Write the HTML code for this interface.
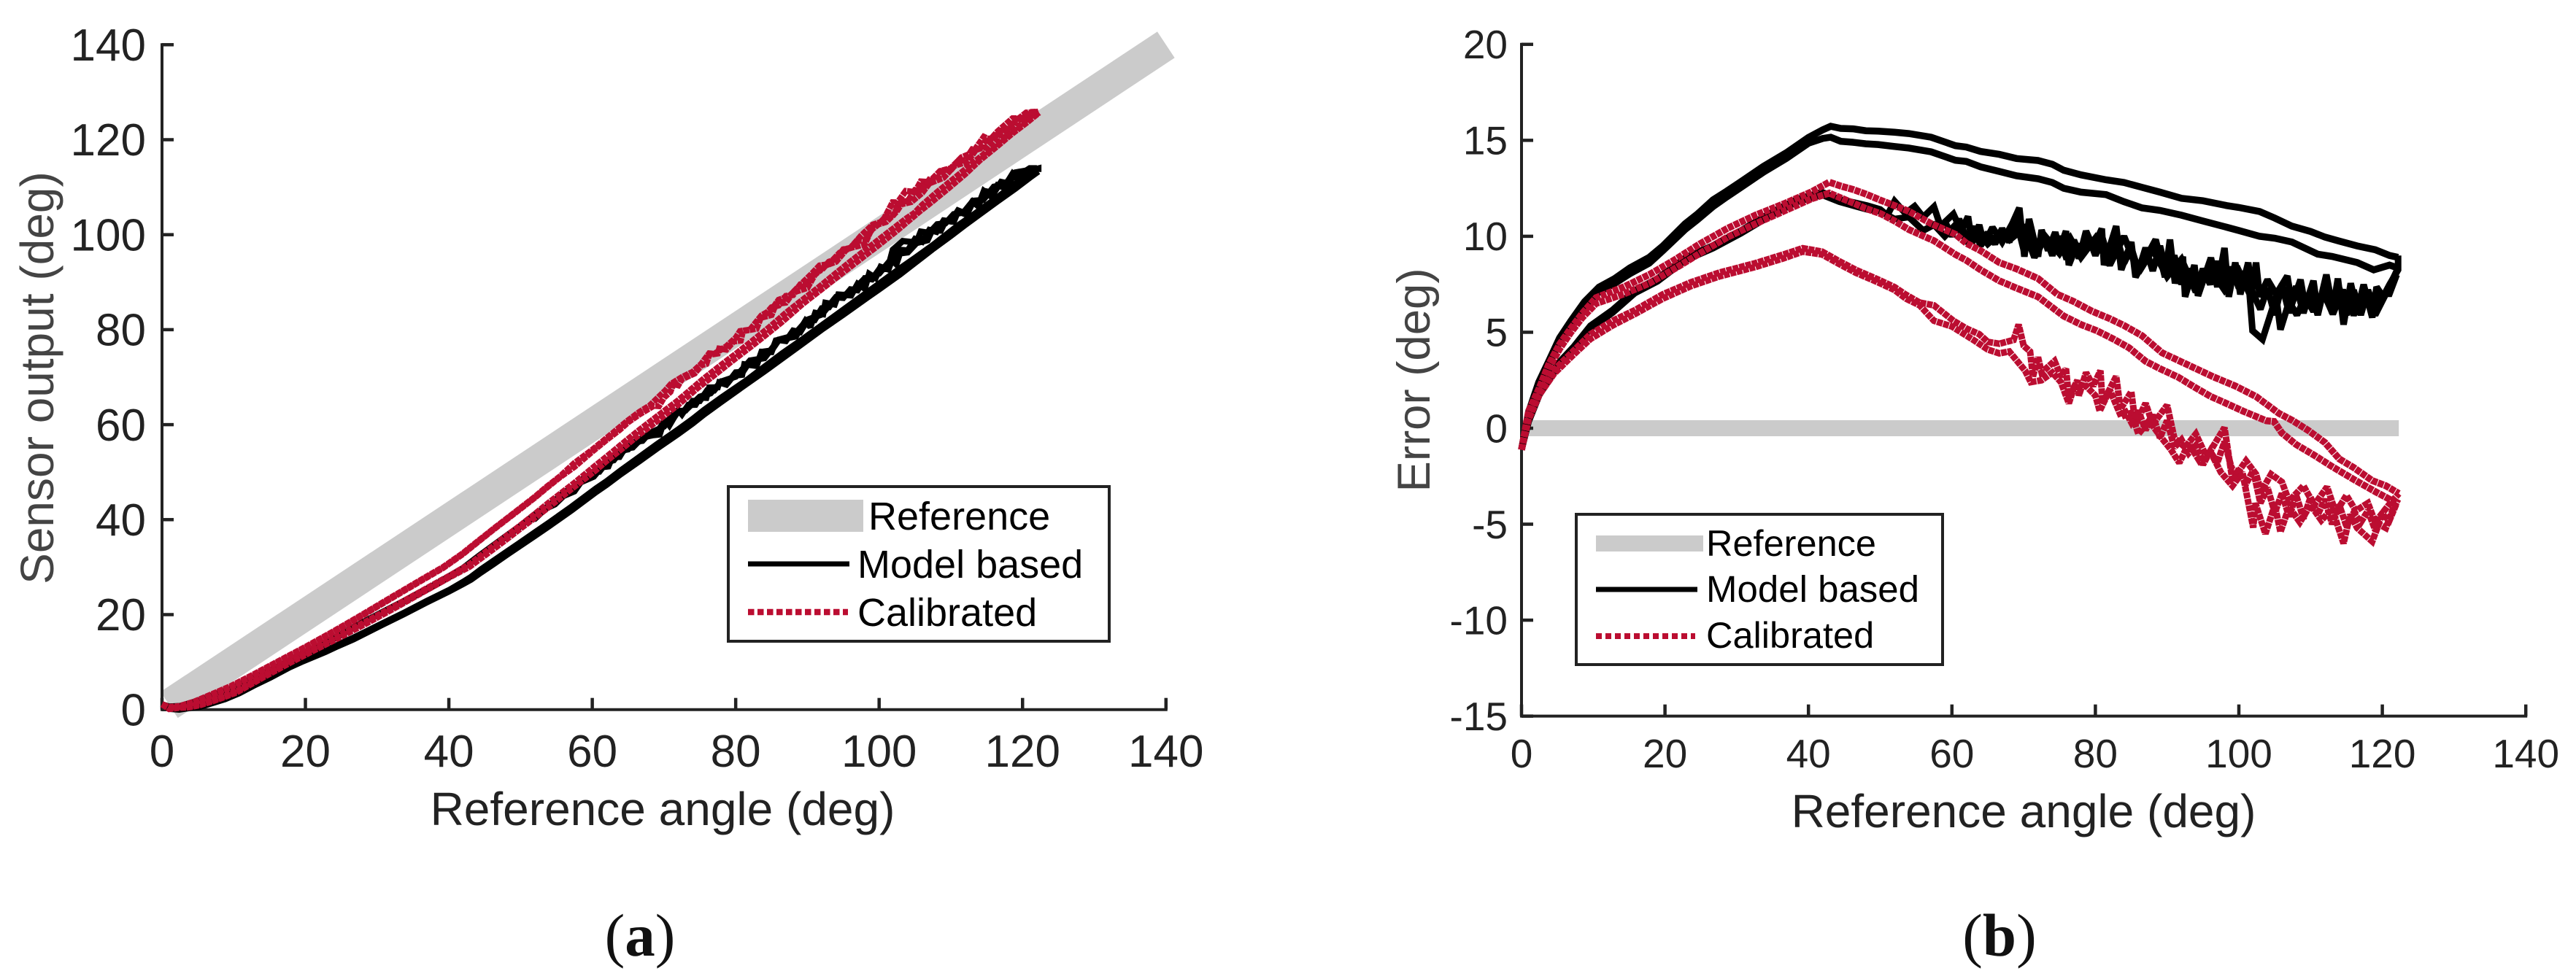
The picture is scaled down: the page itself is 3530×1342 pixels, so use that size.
<!DOCTYPE html>
<html lang="en">
<head>
<meta charset="utf-8">
<title>Sensor output and error versus reference angle</title>
<style>
  html, body { margin: 0; padding: 0; background: #fff; }
  svg { display: block; }
  text { font-family: "Liberation Sans", Arial, sans-serif; fill: #222; }
  .caption { font-family: "Liberation Serif", serif; fill: #111; }
</style>
</head>
<body>
<svg id="figure" xmlns="http://www.w3.org/2000/svg" width="3530" height="1342" viewBox="0 0 3530 1342">
  <rect width="3530" height="1342" fill="#fff"/>
  <g id="panel-a"></g>
  <g id="panel-b"></g>

  <g>
    <rect x="998" y="667" width="522" height="212" fill="#fff" stroke="#222" stroke-width="4"/>
    <rect x="1025" y="685" width="158" height="44" fill="#cbcbcb"/>
    <text x="1190" y="726" font-size="54" style="fill:#000">Reference</text>
    <line x1="1025" x2="1164" y1="773" y2="773" stroke="#000" stroke-width="7"/>
    <text x="1175" y="792" font-size="54" style="fill:#000">Model based</text>
    <line x1="1025" x2="1162" y1="839" y2="839" stroke="#bb0d31" stroke-width="8.5" stroke-dasharray="8.5 4.5"/>
    <text x="1175" y="858" font-size="54" style="fill:#000">Calibrated</text>
  </g>

  <g>
    <rect x="2160" y="705" width="502" height="206" fill="#fff" stroke="#222" stroke-width="4"/>
    <rect x="2187" y="734" width="147" height="22" fill="#cbcbcb"/>
    <text x="2338" y="762" font-size="50.5" style="fill:#000">Reference</text>
    <line x1="2187" x2="2326" y1="808" y2="808" stroke="#000" stroke-width="7"/>
    <text x="2338" y="825" font-size="51" style="fill:#000">Model based</text>
    <line x1="2187" x2="2323" y1="872" y2="872" stroke="#bb0d31" stroke-width="8" stroke-dasharray="8 5"/>
    <text x="2338" y="888" font-size="50.5" style="fill:#000">Calibrated</text>
  </g>

  <text class="caption" x="877" y="1310" font-size="83" text-anchor="middle">(<tspan font-weight="bold">a</tspan>)</text>
  <text class="caption" x="2740" y="1310" font-size="83" text-anchor="middle">(<tspan font-weight="bold">b</tspan>)</text>
</svg>

<script>
// Axis tick labels
const angleTicks = [0, 20, 40, 60, 80, 100, 120, 140];
const sensorTicks = [0, 20, 40, 60, 80, 100, 120, 140];
const errorTicks = [-15, -10, -5, 0, 5, 10, 15, 20];

// Reference series (ideal sensor): angle range
const referenceAngle = [1, 140];
const referenceErrorAngle = [0, 122.3];
const referenceError = [0, 0];

// Model based: outer loop, upper strand (error in deg)
const modelOuterUpperAngle = [0,1,2.4,3.8,5.3,6.9,8.8,10.8,13,15.1,17.8,19.7,22.8,24.5,26.7,28.6,30.6,33.75,36.9,40,42,43.1,44.5,46.2,48,49.7,52,54,57.1,60.5,62,64,66.6,69,72,74,75.6,78,81.5,84,86.5,89,92,95,98.3,100,102.9,105,107.4,110,112,114,116.5,119,121,122.2];
const modelOuterUpperError = [-1.12,0.85,2.4,3.5,4.7,5.6,6.6,7.35,7.8,8.35,8.9,9.5,10.65,11.15,11.9,12.35,12.85,13.65,14.35,15.15,15.55,15.73,15.62,15.6,15.5,15.48,15.42,15.35,15.16,14.72,14.65,14.42,14.27,14.05,13.95,13.75,13.44,13.2,12.94,12.8,12.55,12.3,11.98,11.85,11.6,11.5,11.29,10.95,10.53,10.25,9.96,9.75,9.5,9.3,9.0,8.9];

// Model based: outer loop, lower strand
const modelOuterLowerAngle = [0,1,2.4,3.8,5.3,6.9,8.8,10.8,13,15.1,17.8,19.7,22.8,24.5,26.7,28.6,30.6,33.75,36.9,40,42,43.1,44.5,46.2,48,49.7,52,54,57.1,60.5,62,64,66.6,69,72,74,75.6,78,81.5,84,86.5,89,92,95,98.3,100,102.9,105,107.4,111,113,116.5,118.8,121,122];
const modelOuterLowerError = [-1.12,0.7,2.2,3.3,4.5,5.4,6.4,7.1,7.55,8.05,8.6,9.25,10.35,10.85,11.55,12.05,12.55,13.35,14.05,14.85,15.1,15.16,14.95,14.9,14.82,14.78,14.68,14.6,14.4,13.96,13.9,13.62,13.38,13.15,13.0,12.8,12.5,12.3,12.17,11.8,11.48,11.35,11.1,10.8,10.47,10.3,10.0,9.9,9.7,9.07,8.95,8.63,8.25,8.5,8.37];

// Model based: inner loop, first strand (noisy on the way back)
const modelInnerFirstAngle = [0,1,2.5,4.94,7.3,9.6,12.7,15.8,18.96,22.85,26.7,30.6,34.5,38.4,41.9,44.3,48.2,50,51,52,53.5,54.8,56,57.5,58.4,60.2,61.3,62.25,62.8,63.8,64.5,65.65,67,68.4,69.4,70.1,70.75,72,72.5,73.4,74.4,75,75.9,76.3,77.5,77.7,78.7,79.7,80.9,81.2,82.9,83.6,85,85.6,88.4,89.7,90.4,91.1,92.2,92.5,93.8,94.3,96.1,97,98,98.6,99.5,100.2,101.3,101.8,102.4,102.9,104,105.2,106.75,107.4,108.6,109.25,110.4,111,112.2,113.1,113.8,114.6,115.6,116.5,117.4,118.6,119.2,120.1,121,122.2,122.2];
const modelInnerFirstError = [-1.12,0.5,1.9,3.31,4.26,5.34,6.16,7.18,7.8,8.89,9.52,10.3,11.17,11.93,12.3,11.93,11.6,11.4,11.1,11.83,11.2,11.57,11.0,11.54,10.53,11.16,10.27,11.03,9.64,10.59,9.58,10.46,9.7,10.65,11.48,8.94,10.9,8.94,10.33,9.26,10.21,9.32,10.27,8.5,9.64,8.82,10.27,9.39,10.4,8.5,10.53,8.25,9.7,7.87,9.83,7.87,9.83,7.55,8.94,6.85,8.5,6.9,8.88,7.36,9.39,6.85,8.63,6.98,8.63,7.1,8.63,6.85,7.74,6.98,7.93,6.47,7.74,6.35,7.68,6.09,8.0,6.2,7.8,5.4,7.55,6.09,7.48,5.77,7.36,6.85,7.48,8.25,9.0];

// Model based: inner loop, second strand
const modelInnerSecondAngle = [0,1,2.5,4.94,7.3,9.6,12.7,15.8,18.96,22.85,26.7,30.6,34.5,38.4,41.9,44.3,48.2,50,52,54,56,57.5,59,60.5,62,63.5,65,66.5,68,70,71.5,73,75,76.5,78,80,82,84,86,88,90,92,94,96,98,100,101.5,101.9,103.3,105.2,105.8,107,108.1,109.25,110.4,111.75,113.1,114.5,116,117.5,119,120.5,122];
const modelInnerSecondError = [-1.12,0.35,1.75,3.15,4.1,5.2,6.02,7.04,7.66,8.75,9.38,10.16,11.03,11.79,12.16,11.8,11.4,11.3,10.9,11,10.3,10.6,10,10.6,9.8,10.3,9.6,10.1,9.8,10.4,8.9,10,9.1,9.9,8.9,9.9,8.5,10,8.1,9.3,7.9,8.8,7.1,8.3,7.2,8.2,7,5.08,4.63,6.85,5.14,6.6,5.9,6.85,6.09,7.1,5.95,7.2,5.9,7,5.9,7,8.2];

// Model based: inner loop, extra return pass through the noisy region
const modelInnerThirdAngle = [59,60,61,62,63,64,65,66,67,68,69,70,71,72,73,74,75,76,77,78,79,80,81,82,83,84,85,86,87,88,89,90,91,92,93,94,95,96,97,98,99,100,101,102,103,104,105,106,107,108,109,110,111,112,113,114,115,116,117,118,119,120,121,122];
const modelInnerThirdError = [10.8,10,10.9,9.9,10.5,9.5,10.2,9.6,10.4,9.7,10.8,9.3,10.3,9.2,10,9,10,8.8,9.8,8.9,10,9,9.9,8.6,9.9,8.6,9.4,8.2,9.4,8.2,9.5,8,9,7.5,8.3,7.2,8.3,7.5,8.7,7.2,8.4,7.3,8.2,7,6.2,7.3,5.9,7.5,6,7.4,6,7.2,5.9,7.5,6,7.3,5.9,7.2,5.9,7.2,6.2,7,7,8];

// Calibrated: upper loop, first strand
const calibratedUpperFirstAngle = [0,1,2.41,3.77,5.33,6.89,8.44,10.39,14.3,17.8,21.3,24.8,28.7,32.6,36.5,40.4,42.9,44.5,46.2,48,50.1,52,54,57.1,60.5,62,64,66.6,69,72,74.7,77,79.5,82,84,86.5,89.3,92.9,96.5,99.5,102.4,105.6,107.5,109.7,112,114,116,118.6,120.5,122.3];
const calibratedUpperFirstError = [-1.12,0.9,2.04,3.31,4.39,5.21,5.97,6.8,7.37,8.0,8.76,9.59,10.41,11.1,11.68,12.31,12.82,12.62,12.44,12.2,11.87,11.6,11.3,10.66,10.1,9.64,9.25,8.63,8.3,7.8,6.98,6.6,6.1,5.71,5.35,4.82,3.93,3.3,2.67,2.2,1.65,0.77,0.4,-0.12,-0.75,-1.6,-2.05,-2.73,-3.0,-3.4];

// Calibrated: upper loop, second strand
const calibratedUpperSecondAngle = [0,1,2.41,3.77,5.33,6.89,8.44,10.39,14.3,17.8,21.3,24.8,28.7,32.6,36.5,40.4,42.9,44.5,46.2,48,50.1,52,54,57.5,60.5,62,64,66.6,69,72,75.6,78,80.2,82.5,84.7,87,89,91.5,94,96.1,98.5,100.6,103.8,104.9,106,108,110.6,113,116.3,119,122];
const calibratedUpperSecondError = [-1.12,0.75,1.85,3.1,4.15,5.0,5.75,6.5,7.0,7.55,8.3,9.1,9.95,10.65,11.3,11.95,12.25,12.0,11.74,11.45,11.17,10.8,10.35,9.77,9.05,8.75,8.25,7.68,7.3,6.85,5.84,5.4,5.08,4.65,4.19,3.49,3.1,2.67,2.1,1.65,1.25,0.89,0.39,0.35,-0.25,-0.85,-1.43,-2.0,-2.73,-3.3,-3.9];

// Calibrated: lower loop, first strand (noisy on the way back)
const calibratedLowerFirstAngle = [0,1,2.5,4.55,7.3,9.6,12.7,15.8,19.7,23.6,27.5,32.6,36.5,39.2,41.9,44.3,46.6,49.7,52,53.6,55.5,57.5,60.2,62,63.8,65,66.6,68.6,69.3,70,70.9,71.3,72,72.5,74.3,75.2,75.9,76.3,77.5,77.7,78.7,79.7,80.7,81,82.9,83.5,85,85.6,87,88,90,91,92.5,94,95.5,98,99.1,101,102.4,103.1,104.5,106,107,109,110.5,112.3,113.5,115,116.3,118,119,120.9,122.3];
const calibratedLowerFirstError = [-1.12,0.6,1.9,3.05,4.05,4.9,5.6,6.15,6.98,7.6,8.1,8.6,9.05,9.38,9.2,8.7,8.25,7.75,7.35,6.95,6.55,6.4,5.6,5.2,4.9,4.5,4.4,4.6,5.4,4.3,4.0,2.7,3.7,2.9,3.5,2.7,3.1,1.6,2.5,1.7,2.9,2.2,3.0,1.3,2.7,1.0,1.9,0.2,1.3,0.2,1.2,-0.5,-1.0,-0.3,-1.5,0.03,-2.7,-1.7,-2.4,-3.3,-2.4,-2.8,-3.8,-3,-4,-3.06,-4.4,-3.5,-4.3,-3.9,-4.9,-4,-3.4];

// Calibrated: lower loop, second strand
const calibratedLowerSecondAngle = [0,1,2.5,4.55,7.3,9.6,12.7,15.8,19.7,23.6,27.5,32.6,36.5,39.2,41.9,44.3,46.6,49.7,52,53.6,55.5,57.5,60,63,65,66.6,68,70.2,71,72.5,74,75.2,76.3,77,78.7,80,80.6,82,83.6,85,86,87.5,89,90.5,91.7,93,94.5,96,97.5,99.1,100.5,102,102.3,103.7,105,105.8,107,108.5,110,111.5,113,114.6,115.5,116.5,118.6,119.5,120.5,121.5,122.2];
const calibratedLowerSecondError = [-1.12,0.45,1.75,2.85,3.85,4.65,5.35,5.95,6.75,7.4,7.9,8.4,8.85,9.2,9.05,8.55,8.1,7.6,7.2,6.75,6.4,5.6,5.3,4.6,4.1,3.9,4.0,3.0,2.4,2.5,2.9,2.4,1.3,2.1,2.2,1.7,0.9,2.0,0.6,0.8,-0.3,0.4,-0.4,-1.1,-1.8,-0.8,-1.7,-1.2,-2.3,-3,-2.3,-5.18,-3.9,-5.5,-4,-5.4,-4.1,-4.9,-4,-4.8,-4.2,-6,-4.5,-5.2,-5.9,-5,-5.2,-4.2,-3.7];

// Calibrated: lower loop, extra return pass through the noisy region
const calibratedLowerThirdAngle = [84,85,86,87,88,89,90,91,92,93,94,95,96,97,98,99,100,101,102,103,104,105,106,107,108,109,110,111,112,113,114,115,116,117,118,119,120,121,122];
const calibratedLowerThirdError = [1.0,0.3,0.9,-0.1,0.7,-0.5,0.4,-1.0,-0.6,-1.3,-0.9,-1.9,-1.2,-1.8,-0.7,-2.1,-2.3,-2.9,-2.2,-3.9,-3.1,-4.4,-3.4,-4.6,-3.5,-4.7,-3.6,-4.5,-3.7,-5,-4,-5.1,-4.4,-4.9,-4.3,-5.3,-4.5,-4.8,-3.9];

const SVG_NS = 'http://www.w3.org/2000/svg';
const MODEL_COLOR = '#000';
const CALIBRATED_COLOR = '#bb0d31';
const REFERENCE_COLOR = '#cbcbcb';
const AXIS_COLOR = '#222';

// Axis functions
const panelA = {
  x: v => 222 + v * 9.827,
  y: v => 972.7 - v * 6.51
};
const panelB = {
  x: v => 2085 + v * 9.83,
  y: v => 587 - v * 26.31
};

function svgEl(tag, parent) {
  const el = document.createElementNS(SVG_NS, tag);
  parent.appendChild(el);
  return el;
}

function drawAxes(parent, axis, xTicks, yTicks, xMin, xMax, yMin, yMax, tickSize, xBase, yLabelEdge) {
  const yAxis = svgEl('line', parent);
  
  
  yAxis.setAttribute('x1', axis.x(xMin));
  yAxis.setAttribute('x2', axis.x(xMin));
  yAxis.setAttribute('y1', axis.y(yMax) - 2);
  yAxis.setAttribute('y2', axis.y(yMin) + 2);
  yAxis.setAttribute('stroke', AXIS_COLOR);
  yAxis.setAttribute('stroke-width', 4);

  const xAxis = svgEl('line', parent);
  
  
  xAxis.setAttribute('x1', axis.x(xMin));
  xAxis.setAttribute('x2', axis.x(xMax) + 2);
  xAxis.setAttribute('y1', axis.y(yMin));
  xAxis.setAttribute('y2', axis.y(yMin));
  xAxis.setAttribute('stroke', AXIS_COLOR);
  xAxis.setAttribute('stroke-width', 4);

  xTicks.forEach(t => {
    const mark = svgEl('line', parent);
    
    
    mark.setAttribute('x1', axis.x(t));
    mark.setAttribute('x2', axis.x(t));
    mark.setAttribute('y1', axis.y(yMin));
    mark.setAttribute('y2', axis.y(yMin) - 16);
    mark.setAttribute('stroke', AXIS_COLOR);
    mark.setAttribute('stroke-width', 4.5);

    const label = svgEl('text', parent);
    
    
    label.setAttribute('x', axis.x(t));
    label.setAttribute('y', xBase);
    label.setAttribute('font-size', tickSize);
    label.setAttribute('text-anchor', 'middle');
    label.textContent = String(t);
  });

  yTicks.forEach(t => {
    const mark = svgEl('line', parent);
    
    
    mark.setAttribute('x1', axis.x(xMin));
    mark.setAttribute('x2', axis.x(xMin) + 16);
    mark.setAttribute('y1', axis.y(t));
    mark.setAttribute('y2', axis.y(t));
    mark.setAttribute('stroke', AXIS_COLOR);
    mark.setAttribute('stroke-width', 4.5);

    const label = svgEl('text', parent);
    
    
    label.setAttribute('x', yLabelEdge);
    label.setAttribute('y', axis.y(t) + tickSize * 0.35);
    label.setAttribute('font-size', tickSize);
    label.setAttribute('text-anchor', 'end');
    label.textContent = String(t);
  });
}

function drawTrace(parent, xs, ys, axis, color, dashed, width, name) {
  const pts = xs.map((v, i) => axis.x(v).toFixed(1) + ',' + axis.y(ys[i]).toFixed(1));
  const line = svgEl('polyline', parent);
  
  
  line.setAttribute('points', pts.join(' '));
  line.setAttribute('fill', 'none');
  line.setAttribute('stroke', color);
  line.setAttribute('stroke-width', width);
  line.setAttribute('stroke-linejoin', 'miter');
  line.setAttribute('stroke-miterlimit', '2');
  if (dashed) line.setAttribute('stroke-dasharray', '8 1');
}

function axisTitle(parent, text, x, y, size, color, rotate, name) {
  const t = svgEl('text', parent);
  
  
  t.setAttribute('font-size', size);
  t.setAttribute('text-anchor', 'middle');
  t.setAttribute('style', 'fill:' + color);
  if (rotate) {
    t.setAttribute('transform', 'translate(' + x + ',' + y + ') rotate(-90)');
  } else {
    t.setAttribute('x', x);
    t.setAttribute('y', y);
  }
  t.textContent = text;
}

// Panel (a): output = reference angle - error
const outputOf = (xs, es) => xs.map((v, i) => v - es[i]);

const groupA = document.getElementById('panel-a');
drawTrace(groupA, referenceAngle, referenceAngle, panelA, REFERENCE_COLOR, false, 43, 'reference-line');
drawAxes(groupA, panelA, angleTicks, sensorTicks, 0, 140, 0, 140, 62, 1051, 200);
drawTrace(groupA, modelOuterUpperAngle, outputOf(modelOuterUpperAngle, modelOuterUpperError), panelA, MODEL_COLOR, false, 8.5, 'model-outer-upper-line');
drawTrace(groupA, modelOuterLowerAngle, outputOf(modelOuterLowerAngle, modelOuterLowerError), panelA, MODEL_COLOR, false, 8.5, 'model-outer-lower-line');
drawTrace(groupA, modelInnerFirstAngle, outputOf(modelInnerFirstAngle, modelInnerFirstError), panelA, MODEL_COLOR, false, 8.5, 'model-inner-first-line');
drawTrace(groupA, modelInnerSecondAngle, outputOf(modelInnerSecondAngle, modelInnerSecondError), panelA, MODEL_COLOR, false, 8.5, 'model-inner-second-line');
drawTrace(groupA, modelInnerThirdAngle, outputOf(modelInnerThirdAngle, modelInnerThirdError), panelA, MODEL_COLOR, false, 8.5, 'model-inner-third-line');
drawTrace(groupA, calibratedUpperFirstAngle, outputOf(calibratedUpperFirstAngle, calibratedUpperFirstError), panelA, CALIBRATED_COLOR, true, 8.5, 'calibrated-upper-first-line');
drawTrace(groupA, calibratedUpperSecondAngle, outputOf(calibratedUpperSecondAngle, calibratedUpperSecondError), panelA, CALIBRATED_COLOR, true, 8.5, 'calibrated-upper-second-line');
drawTrace(groupA, calibratedLowerFirstAngle, outputOf(calibratedLowerFirstAngle, calibratedLowerFirstError), panelA, CALIBRATED_COLOR, true, 8.5, 'calibrated-lower-first-line');
drawTrace(groupA, calibratedLowerSecondAngle, outputOf(calibratedLowerSecondAngle, calibratedLowerSecondError), panelA, CALIBRATED_COLOR, true, 8.5, 'calibrated-lower-second-line');
drawTrace(groupA, calibratedLowerThirdAngle, outputOf(calibratedLowerThirdAngle, calibratedLowerThirdError), panelA, CALIBRATED_COLOR, true, 8.5, 'calibrated-lower-third-line');
axisTitle(groupA, 'Reference angle (deg)', 908, 1131, 64, '#222', false, 'x-axis-title');
axisTitle(groupA, 'Sensor output (deg)', 73, 518, 64, '#444', true, 'y-axis-title');

// Panel (b)
const groupB = document.getElementById('panel-b');
drawTrace(groupB, referenceErrorAngle, referenceError, panelB, REFERENCE_COLOR, false, 22, 'reference-line');
drawAxes(groupB, panelB, angleTicks, errorTicks, 0, 140, -15, 20, 55, 1052, 2066);
drawTrace(groupB, modelOuterUpperAngle, modelOuterUpperError, panelB, MODEL_COLOR, false, 9.5, 'model-outer-upper-line');
drawTrace(groupB, modelOuterLowerAngle, modelOuterLowerError, panelB, MODEL_COLOR, false, 9.5, 'model-outer-lower-line');
drawTrace(groupB, modelInnerFirstAngle, modelInnerFirstError, panelB, MODEL_COLOR, false, 9, 'model-inner-first-line');
drawTrace(groupB, modelInnerSecondAngle, modelInnerSecondError, panelB, MODEL_COLOR, false, 9, 'model-inner-second-line');
drawTrace(groupB, modelInnerThirdAngle, modelInnerThirdError, panelB, MODEL_COLOR, false, 9, 'model-inner-third-line');
drawTrace(groupB, calibratedUpperFirstAngle, calibratedUpperFirstError, panelB, CALIBRATED_COLOR, true, 9.5, 'calibrated-upper-first-line');
drawTrace(groupB, calibratedUpperSecondAngle, calibratedUpperSecondError, panelB, CALIBRATED_COLOR, true, 9.5, 'calibrated-upper-second-line');
drawTrace(groupB, calibratedLowerFirstAngle, calibratedLowerFirstError, panelB, CALIBRATED_COLOR, true, 9, 'calibrated-lower-first-line');
drawTrace(groupB, calibratedLowerSecondAngle, calibratedLowerSecondError, panelB, CALIBRATED_COLOR, true, 9, 'calibrated-lower-second-line');
drawTrace(groupB, calibratedLowerThirdAngle, calibratedLowerThirdError, panelB, CALIBRATED_COLOR, true, 9, 'calibrated-lower-third-line');
axisTitle(groupB, 'Reference angle (deg)', 2773, 1134, 64, '#222', false, 'x-axis-title');
axisTitle(groupB, 'Error (deg)', 1959, 521, 63.5, '#444', true, 'y-axis-title');
</script>
</body>
</html>
